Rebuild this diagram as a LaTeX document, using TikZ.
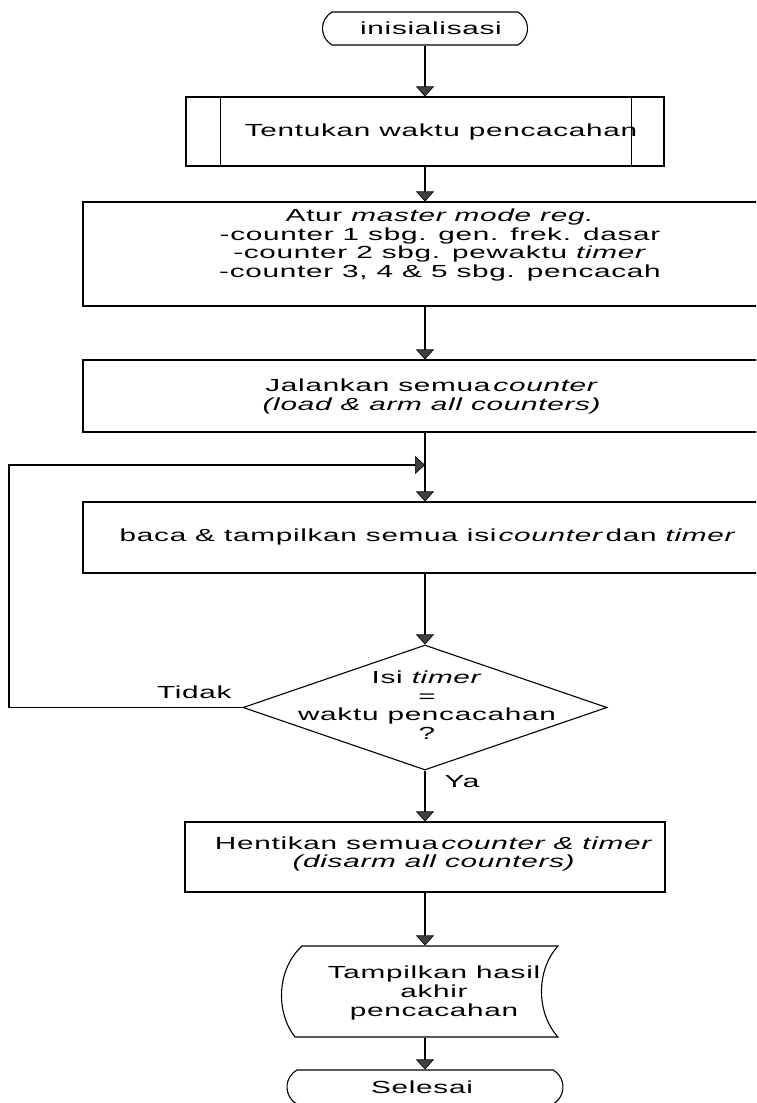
\documentclass[tikz,border=0pt]{standalone}
\usepackage{fontspec}
\setmainfont{Liberation Sans}[FakeStretch=1.7,LetterSpace=4]
\usetikzlibrary{arrows.meta,shapes.geometric,shapes.misc}
\begin{document}
\begin{tikzpicture}[x=1pt,y=-1pt,
  line width=1.1pt,
  box/.style={draw, rectangle, inner sep=0pt},
  txt/.style={inner sep=0pt, align=center, font=\fontsize{17.5}{18.7}\selectfont},
  arr/.style={-{Triangle[width=18pt,length=10pt,fill=black!75,line width=0.6pt]}},
  term/.style={draw, rounded rectangle, rounded rectangle arc length=120, inner sep=0pt}]
\useasboundingbox (0,0) rectangle (756,1103);
\fill[white] (0,0) rectangle (756,1103);
\clip (0,0) rectangle (756,1103);

% shapes
\node[term, minimum width=205pt, minimum height=33pt] (n1) at (425,28.5) {};
\node[box, minimum width=478pt, minimum height=69pt] (n2) at (425,131.5) {};
\draw ([xshift=35pt]n2.north west) -- ([xshift=35pt]n2.south west);
\draw ([xshift=-33pt]n2.north east) -- ([xshift=-33pt]n2.south east);
\node[box, minimum width=684pt, minimum height=104pt] (n3) at (425,254) {};
\node[box, minimum width=684pt, minimum height=72pt] (n4) at (425,396) {};
\node[box, minimum width=684pt, minimum height=71pt] (n5) at (425,537.5) {};
\node[draw, diamond, minimum width=364pt, minimum height=125pt, inner sep=0pt] (n6) at (425,707.5) {};
\node[box, minimum width=480pt, minimum height=70pt] (n7) at (425,857) {};
\node[inner sep=0pt, minimum width=270pt, minimum height=91pt] (n8) at (425,991.5) {};
\draw (302,946) -- (558,946) .. controls (536,970) and (536,1013) .. (558,1037)
      -- (295,1037) .. controls (276,1013) and (276,970) .. (302,946) -- cycle;
\node[term, minimum width=276pt, minimum height=34pt] (n9) at (425,1087) {};

% texts
\node[txt] (t1) at (431,28) {inisialisasi};
\node[txt] (t2) at (441,132) {Tentukan waktu pencacahan};
\node[txt] (t3) at (440,245) {Atur \textit{master mode reg.}\\-counter 1 sbg. gen. frek. dasar\\-counter 2 sbg. pewaktu \textit{timer}\\-counter 3, 4 \& 5 sbg. pencacah};
\node[txt] (t4) at (432,396.5) {Jalankan semua\hspace{3pt}\textit{counter}\\\textit{(load \& arm all counters)}};
\node[txt] (t5) at (428,537) {baca \& tampilkan semua isi\hspace{2pt}\textit{counter}\hspace{2pt}dan \textit{timer}};
\node[txt] (t6) at (427,705) {Isi \textit{timer}\\=\\waktu pencacahan\\?};
\node[txt] (t7) at (434,854) {Hentikan semua\hspace{3pt}\textit{counter \& timer}\\\textit{(disarm all counters)}};
\node[txt] (t8) at (434,993) {Tampilkan hasil\\akhir\\pencacahan};
\node[txt] (t9) at (422,1087) {Selesai};
\node[txt, anchor=east] (lt) at (232,692) {Tidak};
\node[txt, anchor=west] (ly) at (444,782) {Ya};

% connectors
\coordinate (j) at (425,465);
\coordinate (lc) at (9,707.5);
\draw[arr] (n1.south) -- (n2.north);
\draw[arr] (n2.south) -- (n3.north);
\draw[arr] (n3.south) -- (n4.north);
\draw[arr] (n4.south) -- (n5.north);
\draw[arr] (n6.west) -- (lc) |- (j);
\draw[arr] (n5.south) -- (n6.north);
\draw[arr] (n6.south) -- (n7.north);
\draw[arr] (n7.south) -- (n8.north);
\draw[arr] (n8.south) -- (n9.north);
\end{tikzpicture}
\end{document}
